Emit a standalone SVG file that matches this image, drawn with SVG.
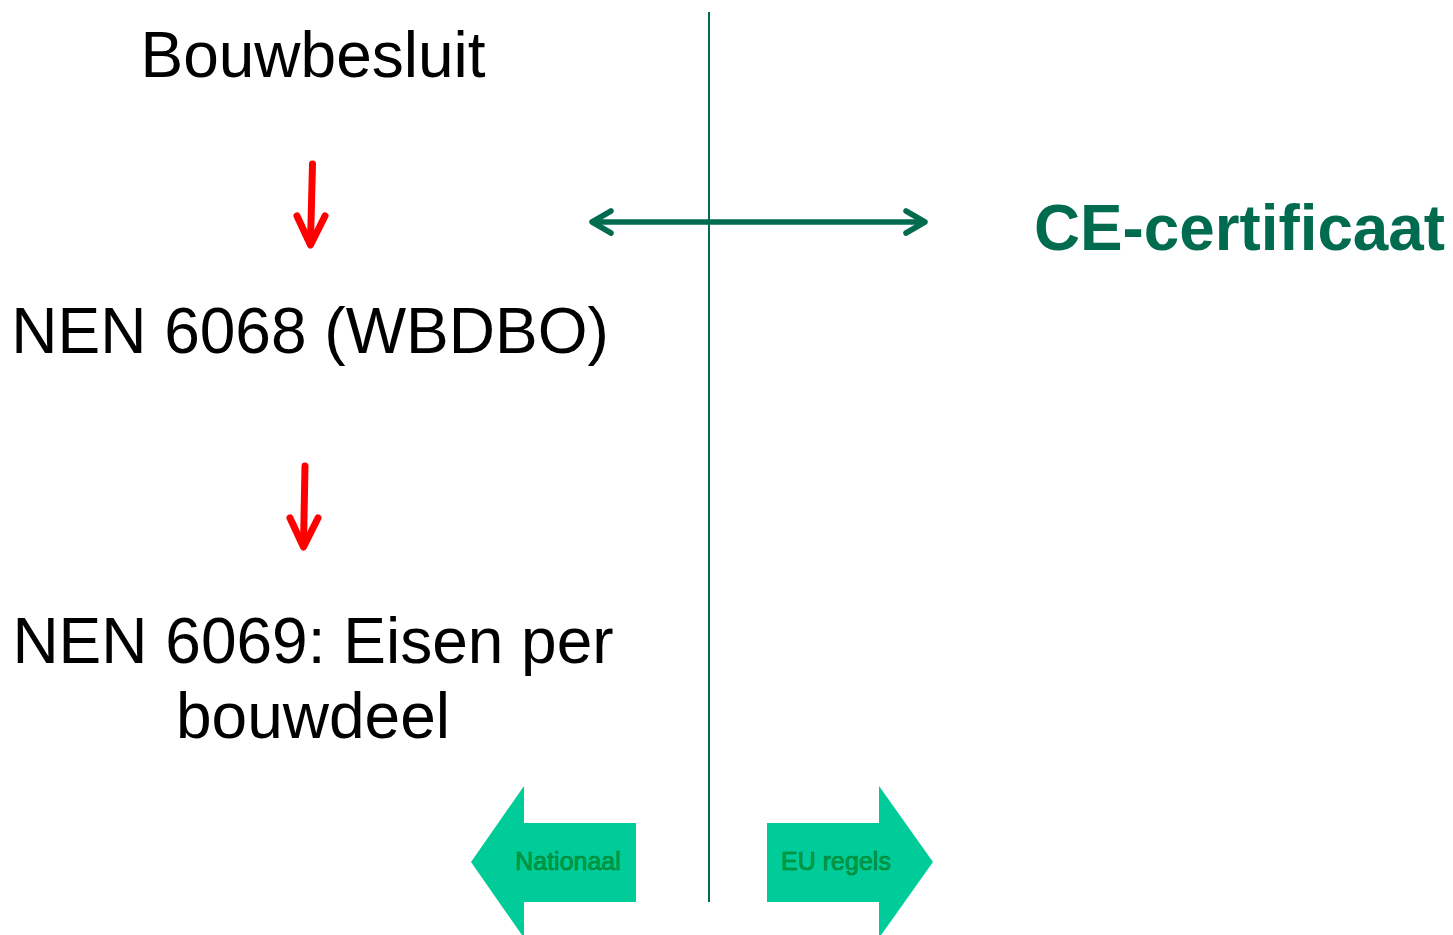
<svg xmlns="http://www.w3.org/2000/svg" width="1453" height="935" viewBox="0 0 1453 935">
<style>
.big{font-family:"Liberation Sans",Arial,sans-serif;font-size:64px;fill:#000}
.ce{font-family:"Liberation Sans",Arial,sans-serif;font-size:64px;font-weight:bold;fill:#006B4F}
.small{font-family:"Liberation Sans",Arial,sans-serif;font-size:25px;fill:#00A040;stroke:#007A35;stroke-width:0.6}
.red{stroke:#FF0000;stroke-width:7;fill:none;stroke-linecap:round;stroke-linejoin:round}
.grn{stroke:#006B4F;fill:none}
.block{fill:#00CC99}
</style>
<rect width="1453" height="935" fill="#fff"/>
<g id="connectors">
<line class="grn" x1="709" y1="12" x2="709" y2="902" stroke-width="2"/>
<line class="grn" x1="593" y1="222" x2="924" y2="222" stroke-width="5.5"/>
<polyline class="grn" points="611,211 592,222 611,233" stroke-width="5.5" stroke-linecap="round" stroke-linejoin="round"/>
<polyline class="grn" points="906,211 925,222 906,233" stroke-width="5.5" stroke-linecap="round" stroke-linejoin="round"/>
<line class="red" x1="312.5" y1="164" x2="310.5" y2="242"/>
<polyline class="red" points="297,216 310.5,245 325,216"/>
<line class="red" x1="305" y1="466" x2="303.5" y2="545"/>
<polyline class="red" points="290,518 303.5,547 318,518"/>
</g>
<g id="bouwbesluit"><text class="big" x="313" y="77" text-anchor="middle">Bouwbesluit</text></g>
<g id="nen6068"><text class="big" x="310" y="353" text-anchor="middle">NEN 6068 (WBDBO)</text></g>
<g id="nen6069"><text class="big" x="313" y="663" text-anchor="middle">NEN 6069: Eisen per</text><text class="big" x="313" y="738" text-anchor="middle">bouwdeel</text></g>
<g id="ce"><text class="ce" x="1034" y="250" textLength="411" lengthAdjust="spacingAndGlyphs">CE-certificaat</text></g>
<g id="nationaal">
<polygon class="block" points="471,862 524,786 524,823 636,823 636,902 524,902 524,938"/>
<text class="small" x="568" y="870" text-anchor="middle">Nationaal</text>
</g>
<g id="euregels">
<polygon class="block" points="933,862 879,786 879,823 767,823 767,902 879,902 879,938"/>
<text class="small" x="836" y="870" text-anchor="middle">EU regels</text>
</g>
</svg>
